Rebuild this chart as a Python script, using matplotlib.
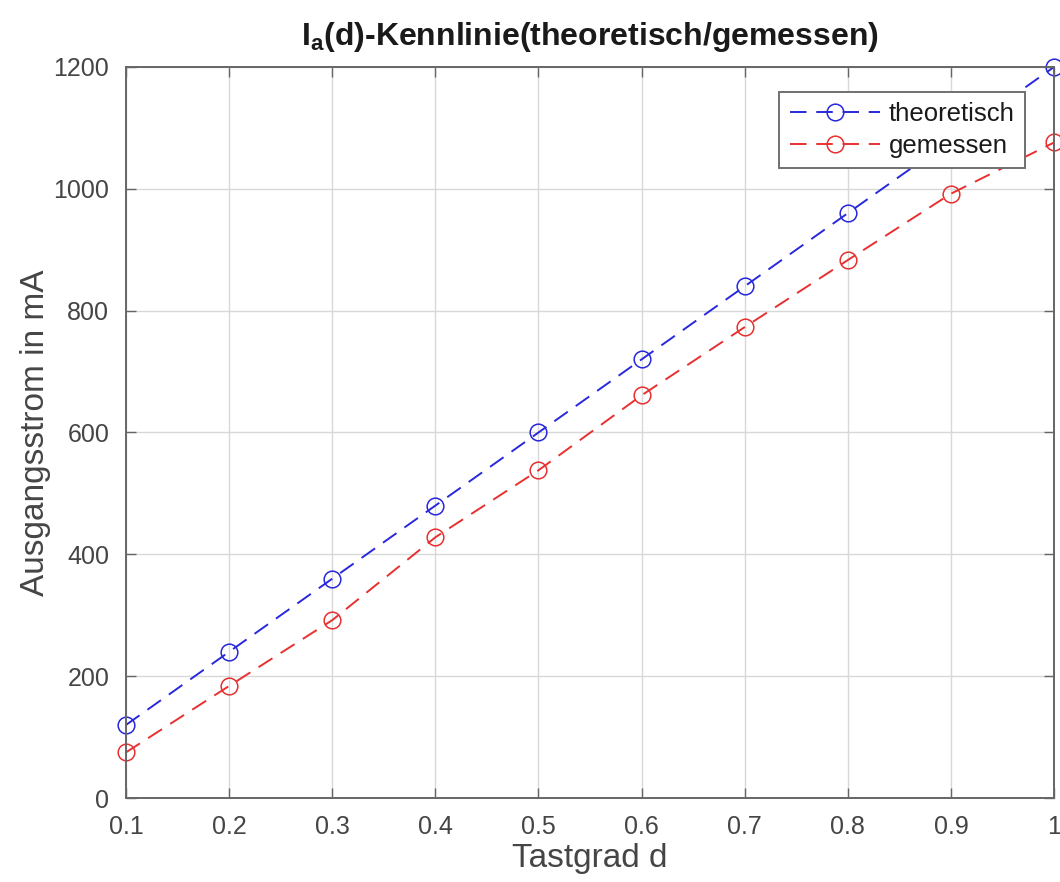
import matplotlib
matplotlib.use("Agg")
import matplotlib.pyplot as plt

# Duty cycle and output current (mA)
tastgrad = [0.1, 0.2, 0.3, 0.4, 0.5, 0.6, 0.7, 0.8, 0.9, 1.0]
strom_theoretisch = [120, 240, 360, 480, 600, 720, 840, 960, 1080, 1200]
strom_gemessen = [75, 184, 292, 428, 538, 661, 773, 883, 992, 1076]

x_ticks = [0.1, 0.2, 0.3, 0.4, 0.5, 0.6, 0.7, 0.8, 0.9, 1.0]
x_ticklabels = ["0.1", "0.2", "0.3", "0.4", "0.5", "0.6", "0.7", "0.8", "0.9", "1"]
y_ticks = [0, 200, 400, 600, 800, 1000, 1200]

plt.rcParams["font.family"] = ["Liberation Sans", "DejaVu Sans"]
plt.rcParams["mathtext.fontset"] = "custom"
plt.rcParams["mathtext.rm"] = "Liberation Sans"
plt.rcParams["mathtext.bf"] = "Liberation Sans:bold"

axis_gray = "#666666"
text_gray = "#454545"
dash = (0, (8.5, 5.0))

fig = plt.figure(figsize=(10.6, 8.82), dpi=100)
ax = fig.add_axes([0.1189, 0.0952, 0.8755, 0.8289])

ax.plot(tastgrad, strom_theoretisch, linestyle=dash, color="#2828dc",
        linewidth=1.4, marker="o", markersize=12, markerfacecolor="none",
        markeredgewidth=1.1, label="theoretisch", clip_on=False)
ax.plot(tastgrad, strom_gemessen, linestyle=dash, color="#e83030",
        linewidth=1.4, marker="o", markersize=12, markerfacecolor="none",
        markeredgewidth=1.1, label="gemessen", clip_on=False)

ax.set_xlim(0.1, 1.0)
ax.set_ylim(0, 1200)
ax.set_xticks(x_ticks)
ax.set_xticklabels(x_ticklabels)
ax.set_yticks(y_ticks)

ax.grid(True, color="#d8d8d8", linewidth=1.0)
ax.set_axisbelow(True)
for sp in ax.spines.values():
    sp.set_color(axis_gray)
    sp.set_linewidth(1.4)
ax.tick_params(direction="in", top=True, right=True, length=7, width=1.0,
               color=axis_gray, labelsize=18, labelcolor=text_gray)
ax.tick_params(axis="x", pad=12)
ax.tick_params(axis="y", pad=12)

ax.set_xlabel("Tastgrad d", fontsize=24, color=text_gray, labelpad=3)
ax.set_ylabel("Ausgangsstrom in mA", fontsize=24, color=text_gray, labelpad=2)
ax.set_title(r"$\mathbf{I_a}$(d)-Kennlinie(theoretisch/gemessen)",
             fontsize=23, fontweight="bold", color="#1a1a1a", pad=16)

leg = ax.legend(loc="upper right", bbox_to_anchor=(0.9685, 0.9658), fontsize=18.5,
                frameon=True, fancybox=False, framealpha=1.0, edgecolor="#707070",
                handlelength=3.5, borderpad=0.4, labelspacing=0.3,
                handletextpad=0.35, borderaxespad=0.0)
leg.get_frame().set_linewidth(1.4)
for t in leg.get_texts():
    t.set_color("#1a1a1a")

fig.savefig("out.png", dpi=100, facecolor="white")
